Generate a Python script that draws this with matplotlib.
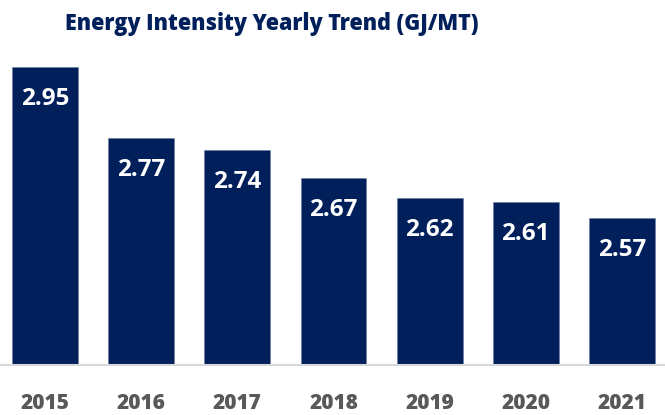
import matplotlib.pyplot as plt

years = ['2015', '2016', '2017', '2018', '2019', '2020', '2021']
intensity = [2.95, 2.77, 2.74, 2.67, 2.62, 2.61, 2.57]

navy = '#001f5b'

fig = plt.figure(figsize=(6.65, 4.15), dpi=100)
# axes placed in pixel terms: bottom line at y=365px, 397 px per GJ/MT
ax = fig.add_axes([-3 / 665, 1 - 365 / 415, 673 / 665, 318 / 415])

x = range(len(years))
ax.bar(x, intensity, width=0.686, color=navy, edgecolor='#6b7ba0', linewidth=0.4, zorder=2)
ax.set_xlim(-0.5, 6.5)
ax.set_ylim(2.2, 3.0)

for i, v in zip(x, intensity):
    ax.annotate(f'{v:.2f}', (i, v), xytext=(0, -23), textcoords='offset points',
                ha='center', va='center', color='white', fontsize=17.5,
                fontweight='bold', family='Open Sans')

for s in ['top', 'right', 'left']:
    ax.spines[s].set_visible(False)
ax.spines['bottom'].set_color('#d9d9d9')
ax.spines['bottom'].set_linewidth(1.5)
ax.set_yticks([])
ax.set_xticks(list(x))
ax.set_xticklabels(years, fontsize=15, fontweight='heavy', color='#595959', family='Open Sans')
ax.tick_params(axis='x', length=0, pad=20)

fig.text(272 / 665, 1 - 24 / 415, 'Energy Intensity Yearly Trend (GJ/MT)', ha='center', va='center',
         fontsize=15.5, fontweight='heavy', color=navy, family='Open Sans')

fig.savefig('out.png', dpi=100)
